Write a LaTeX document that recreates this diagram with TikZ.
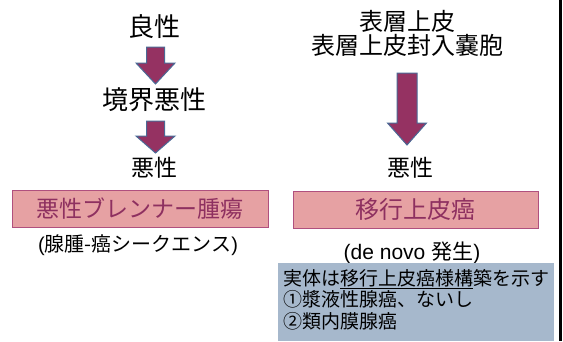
\documentclass[tikz,border=0pt]{standalone}
\usepackage{fontspec}
\setmainfont{Liberation Sans}
\newfontfamily\jp{Noto Sans CJK JP}
\definecolor{arrowfill}{HTML}{953262}
\definecolor{arrowline}{HTML}{4A6A96}
\definecolor{pinkfill}{HTML}{E6A1A3}
\definecolor{pinkline}{HTML}{B0507E}
\definecolor{pinktext}{HTML}{8E3060}
\definecolor{bluefill}{HTML}{A6B8CC}
\newcommand{\fs}[1]{\fontsize{#1}{#1}\selectfont}
\newcommand{\blockarrow}[5]{% center x, half shaft, top, head base, tip
  \filldraw[blockarr] (#1-#2,#3) -- (#1+#2,#3) -- (#1+#2,#4) -- (#1+19.5,#4)
    -- (#1,#5) -- (#1-19.5,#4) -- (#1-#2,#4) -- cycle;}
\tikzset{
  blockarr/.style={fill=arrowfill,draw=arrowline,line width=1pt,line join=miter},
  lbl/.style={inner sep=0pt,text=black},
  pinkbox/.style={draw=pinkline,fill=pinkfill,line width=1pt,text=pinktext,inner sep=0pt},
  bluebox/.style={fill=bluefill,inner sep=0pt}
}
\begin{document}
\begin{tikzpicture}[x=1pt,y=-1pt]
\useasboundingbox (0,0) rectangle (563,341);
\fill[white] (0,0) rectangle (563,341);
% left column
\node[lbl,font=\jp\fs{26}] (benign) at (154,27) {良性};
\blockarrow{155.5}{9}{47}{63}{84}
\node[lbl,font=\jp\fs{26}] (border) at (154,100) {境界悪性};
\blockarrow{155.5}{9}{121}{136}{153}
\node[lbl,font=\jp\fs{23}] (mal1) at (154,168) {悪性};
\node[pinkbox,minimum width=256pt,minimum height=37pt,font=\jp\fs{23}] (brenner) at (140,208.5) {悪性ブレンナー腫瘍};
\node[lbl,font=\fs{20}] (seq) at (138,245) {({\jp 腺腫-癌シークエンス})};
% right column
\node[lbl,align=center,font=\jp\fontsize{24}{24}\selectfont] (surf) at (407,33) {表層上皮\\表層上皮封入嚢胞};
\blockarrow{407}{10}{73}{123}{145}
\node[lbl,font=\jp\fs{23}] (mal2) at (410,168) {悪性};
\node[pinkbox,minimum width=245pt,minimum height=37pt,font=\jp\fs{24}] (tcc) at (415.5,209.5) {移行上皮癌};
\node[lbl,font=\fs{21}] (denovo) at (412,253) {(de novo {\jp 発生})};
\node[bluebox,anchor=north west,minimum width=276pt,minimum height=78pt] (note) at (278,263) {};
\node[lbl,anchor=west,align=left,font=\jp\fontsize{19}{21.5}\selectfont] (notetext) at (283,299.5)
  {実体は\underline{移行上皮癌様構}築を示す\\①漿液性腺癌、ないし\\②類内膜腺癌};
% right edge line
\draw[line width=3pt,black] (560,0) -- (560,341);
\end{tikzpicture}
\end{document}
